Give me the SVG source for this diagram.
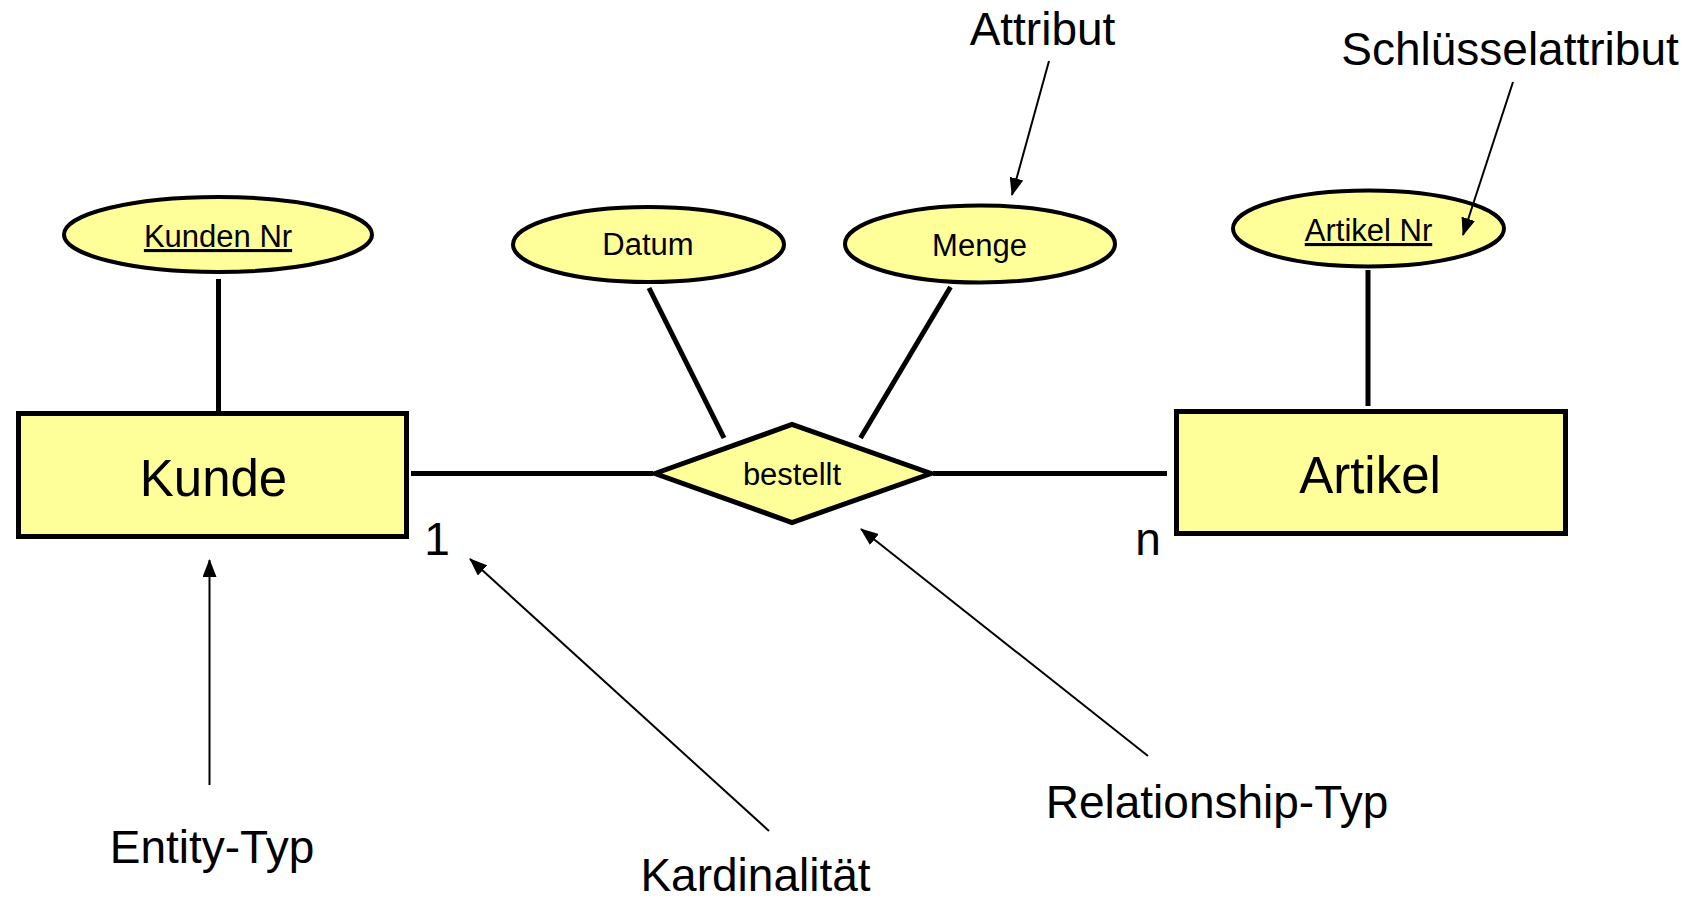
<svg xmlns="http://www.w3.org/2000/svg" width="1697" height="898" viewBox="0 0 1697 898">
<style>
  .shape { fill: #FFFF99; stroke: #000; }
  .ent { stroke-width: 5; }
  .att { stroke-width: 4; }
  .t { font-family: "Liberation Sans", Arial, sans-serif; fill: #000; text-anchor: middle; }
  .small { font-size: 31px; }
  .big { font-size: 51px; }
  .note { font-size: 46px; }
  .key { text-decoration: underline; }
  .conn line { stroke: #000; stroke-width: 5; }
  .ann line { stroke: #000; stroke-width: 2; marker-end: url(#arr); }
</style>
<defs>
  <marker id="arr" markerUnits="userSpaceOnUse" markerWidth="18" markerHeight="14" refX="17" refY="7" orient="auto">
    <path d="M0,0 L18,7 L0,14 z" fill="#000"/>
  </marker>
</defs>
<rect width="1697" height="898" fill="#fff"/>
<g id="connectors" class="conn">
  <line x1="218.5" y1="279" x2="218.5" y2="411"/>
  <line x1="411" y1="473.5" x2="653" y2="473.5"/>
  <line x1="933" y1="473.5" x2="1167" y2="473.5"/>
  <line x1="649" y1="288" x2="724" y2="438"/>
  <line x1="950.5" y1="287" x2="860.5" y2="438"/>
  <line x1="1368" y1="270" x2="1368" y2="406"/>
</g>
<g id="kundennr">
  <ellipse class="shape att" cx="218" cy="234.5" rx="154" ry="37.5"/>
  <text class="t small key" x="218" y="247">Kunden Nr</text>
</g>
<g id="kunde">
  <rect class="shape ent" x="18.5" y="413.5" width="388" height="123"/>
  <text class="t big" x="213.5" y="496">Kunde</text>
</g>
<g id="datum">
  <ellipse class="shape att" cx="648.5" cy="244.5" rx="135.5" ry="37.5"/>
  <text class="t small" x="648" y="255">Datum</text>
</g>
<g id="menge">
  <ellipse class="shape att" cx="980" cy="244" rx="135" ry="38.5"/>
  <text class="t small" x="979.5" y="256">Menge</text>
</g>
<g id="bestellt">
  <polygon class="shape ent" points="655,473.5 792,424.5 931,473.5 792,522.5"/>
  <text class="t small" x="792" y="485">bestellt</text>
</g>
<g id="artikelnr">
  <ellipse class="shape att" cx="1368.5" cy="228.5" rx="135.5" ry="38"/>
  <text class="t small key" x="1368.5" y="241">Artikel Nr</text>
</g>
<g id="artikel">
  <rect class="shape ent" x="1176.5" y="411.5" width="389" height="122"/>
  <text class="t big" x="1370" y="493">Artikel</text>
</g>
<g id="annotation-arrows" class="ann">
  <line x1="1049" y1="61" x2="1012" y2="195"/>
  <line x1="1513" y1="82" x2="1463" y2="235"/>
  <line x1="209.5" y1="785" x2="209.5" y2="560"/>
  <line x1="769" y1="831" x2="470" y2="559"/>
  <line x1="1148" y1="756" x2="861" y2="529"/>
</g>
<g id="labels">
  <text class="t note" x="1042.5" y="45">Attribut</text>
  <text class="t note" x="1510" y="65">Schlüsselattribut</text>
  <text class="t note" x="212" y="863">Entity-Typ</text>
  <text class="t note" x="755.5" y="891">Kardinalität</text>
  <text class="t note" x="1217" y="818">Relationship-Typ</text>
  <text class="t note" x="437" y="555">1</text>
  <text class="t note" x="1148" y="555">n</text>
</g>
</svg>
